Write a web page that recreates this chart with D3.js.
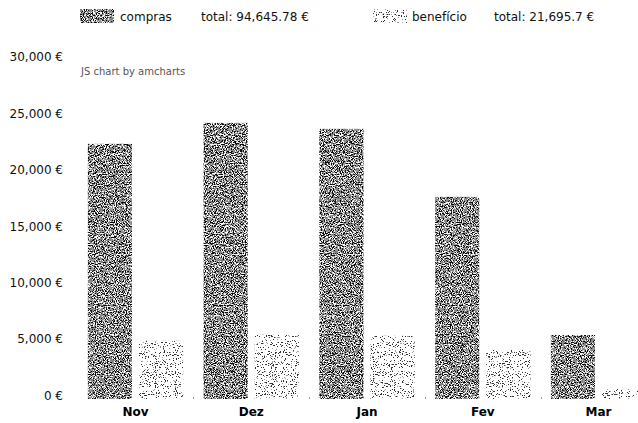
<!DOCTYPE html>
<html>
<head>
<meta charset="utf-8">
<script src="https://cdn.jsdelivr.net/npm/d3@7/dist/d3.min.js"></script>
<style>
  html, body { margin: 0; padding: 0; background: #fff; }
  svg { display: block; font-family: "DejaVu Sans", Verdana, sans-serif; }
</style>
</head>
<body>
<svg id="chart" width="638" height="423"></svg>
<script>
// Monthly purchases and profit, in euros
const months = ["Nov", "Dez", "Jan", "Fev", "Mar"];
const compras = [22620, 24480, 23950, 17920, 5675.78];
const beneficio = [5160, 5690, 5600, 4355, 890.7];
const seriesNames = ["compras", "beneficio"];
const seriesLabels = ["compras", "benefício"];
const yTicks = [0, 5000, 10000, 15000, 20000, 25000, 30000];

const svg = d3.select("#chart");
const fmtEuro = v => d3.format(",")(v) + " €";

// Grain textures: fractal noise quantised into a few grey levels, clipped to each shape
const defs = svg.append("defs");
function grain(id, seed, slope, intercept, table) {
  const f = defs.append("filter")
    .attr("id", id)
    .attr("x", 0).attr("y", 0).attr("width", 1).attr("height", 1)
    .attr("color-interpolation-filters", "sRGB");
  f.append("feTurbulence")
    .attr("type", "fractalNoise").attr("baseFrequency", 0.9)
    .attr("numOctaves", 2).attr("seed", seed).attr("result", "noise");
  f.append("feColorMatrix").attr("in", "noise").attr("type", "matrix")
    .attr("values", "1 0 0 0 0  1 0 0 0 0  1 0 0 0 0  0 0 0 0 1")
    .attr("result", "grey");
  const ct1 = f.append("feComponentTransfer").attr("in", "grey").attr("result", "stretched");
  ["feFuncR", "feFuncG", "feFuncB"].forEach(fn =>
    ct1.append(fn).attr("type", "linear").attr("slope", slope).attr("intercept", intercept));
  const ct2 = f.append("feComponentTransfer").attr("in", "stretched").attr("result", "levels");
  ["feFuncR", "feFuncG", "feFuncB"].forEach(fn =>
    ct2.append(fn).attr("type", "discrete").attr("tableValues", table));
  f.append("feComposite").attr("in", "levels").attr("in2", "SourceAlpha").attr("operator", "in");
}
grain("grainDark", 7, 2.3, -0.65, "0 0.1 0.5 0.6 0.95 1");
grain("grainLight", 11, 2.6, -0.8, "0.2 0.62 1 1 1 1 1 1 1 1 1");
const fills = { compras: "url(#grainDark)", beneficio: "url(#grainLight)" };

// Scales
const y = d3.scaleLinear().domain([0, 30000]).range([399, 60.6]);
const x = d3.scaleBand().domain(months).range([77.6, 656.4]).paddingInner(0).paddingOuter(0);
const xSub = d3.scaleBand().domain(seriesNames).range([0, x.bandwidth()])
  .paddingInner(0.137).paddingOuter(0.2);

// Value axis labels
const yAxis = svg.append("g").attr("transform", "translate(63,0)")
  .call(d3.axisLeft(y).tickValues(yTicks).tickFormat(fmtEuro).tickSize(0).tickPadding(0));
yAxis.select(".domain").remove();
yAxis.selectAll("text")
  .attr("dy", "0.03em")
  .attr("font-family", "DejaVu Sans, Verdana, sans-serif")
  .attr("font-size", 12).attr("fill", "#111");

// Category axis labels
const xAxis = svg.append("g").attr("transform", "translate(0,404)")
  .call(d3.axisBottom(x).tickSize(0).tickPadding(0));
xAxis.select(".domain").remove();
xAxis.selectAll("text")
  .attr("dy", "1em")
  .attr("font-family", "DejaVu Sans, Verdana, sans-serif")
  .attr("font-size", 12).attr("font-weight", "bold").attr("fill", "#000");

// Small marks at category boundaries along the base line
svg.append("g").selectAll("rect")
  .data(months.slice(1))
  .join("rect")
  .attr("x", d => Math.round(x(d)))
  .attr("y", y(0) - 2)
  .attr("width", 1).attr("height", 2)
  .attr("fill", "#9a9a9a");

// Bars
const rows = months.map((m, i) => ({ month: m, compras: compras[i], beneficio: beneficio[i] }));
const groups = svg.append("g").selectAll("g")
  .data(rows)
  .join("g")
  .attr("transform", d => `translate(${x(d.month)},0)`);
groups.selectAll("rect")
  .data(d => seriesNames.map(k => ({ key: k, value: d[k] })))
  .join("rect")
  .attr("x", d => xSub(d.key))
  .attr("width", xSub.bandwidth())
  .attr("y", d => y(d.value))
  .attr("height", d => y(0) - y(d.value))
  .attr("fill", "#000")
  .attr("filter", d => fills[d.key]);

// Legend with series totals
const totals = { compras: d3.sum(compras), beneficio: d3.sum(beneficio) };
const legendPos = { compras: { sw: 80, name: 120, total: 201 },
                    beneficio: { sw: 373, name: 412, total: 494 } };
seriesNames.forEach((k, i) => {
  const p = legendPos[k];
  svg.append("rect").attr("x", p.sw).attr("y", 9).attr("width", 34).attr("height", 14)
    .attr("fill", "#000").attr("filter", fills[k]);
  svg.append("text").attr("x", p.name).attr("y", 21)
    .attr("font-size", 12).attr("fill", "#111").text(seriesLabels[i]);
  svg.append("text").attr("x", p.total).attr("y", 21)
    .attr("font-size", 12).attr("fill", "#111")
    .text("total: " + d3.format(",")(totals[k]) + " €");
});

// Credit line
svg.append("text").attr("x", 81).attr("y", 75)
  .attr("font-size", 10).attr("fill", "#555").text("JS chart by amcharts");
</script>
</body>
</html>
